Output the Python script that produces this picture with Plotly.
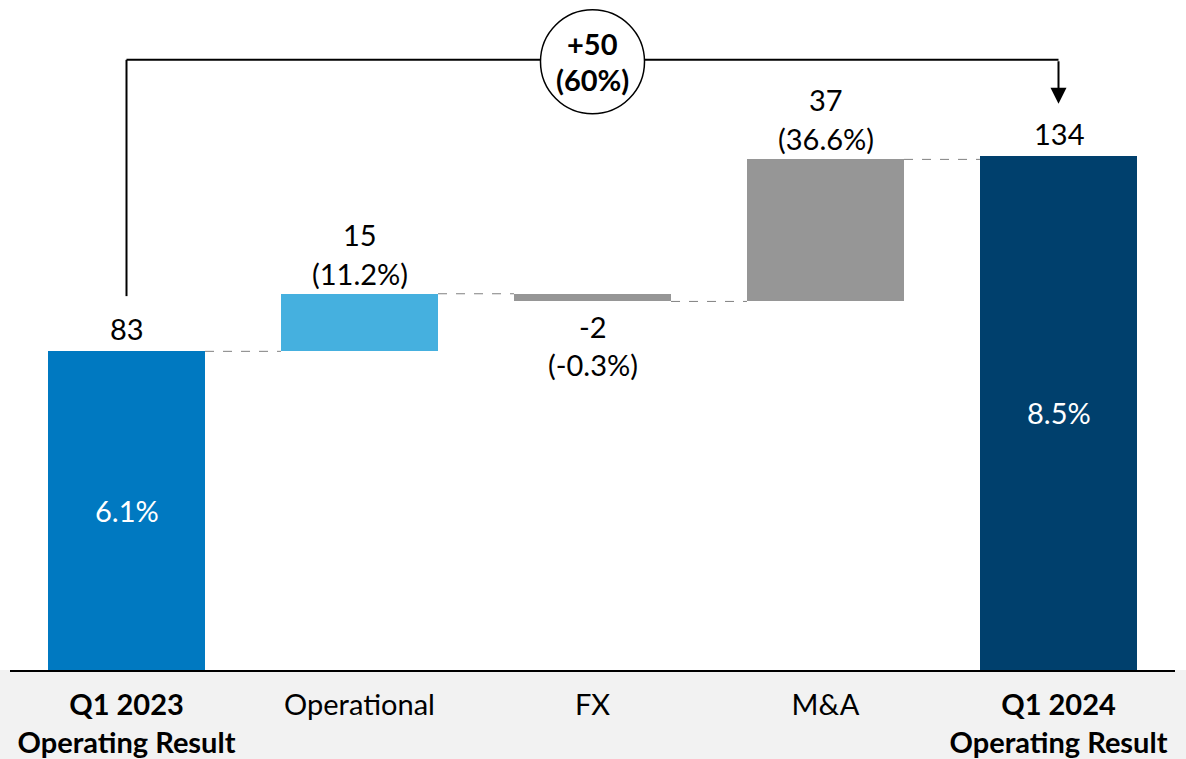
import plotly.graph_objects as go

categories = ["Q1 2023<br>Operating Result", "Operational", "FX", "M&A", "Q1 2024<br>Operating Result"]
bold_flags = [True, False, False, False, True]
values = [83, 15, -2, 37, 134]
measures = ["absolute", "relative", "relative", "relative", "absolute"]
value_labels = ["83", "15", "-2", "37", "134"]
pct_labels = [None, "(11.2%)", "(-0.3%)", "(36.6%)", None]
inside_labels = ["6.1%", None, None, None, "8.5%"]
colors = ["#0079C1", "#45B0DF", "#969696", "#969696", "#00406D"]
bridge_top = "+50"
bridge_pct = "(60%)"

FONT = "Lato"
FS = 29
W, H = 1186, 759
ML, MR, MT, MB = 10, 11, 0, 87
plot_h = H - MT - MB
px_per_unit = 516 / 134.0
y_max = plot_h / px_per_unit

# compute bases
bases, heights, ends = [], [], []
running = 0
for v, m in zip(values, measures):
    if m == "absolute":
        bases.append(0)
        heights.append(v)
        running = v
    else:
        bases.append(running)
        heights.append(v)
        running = running + v
    ends.append(running)

xs = list(range(len(categories)))
bw = 0.674

fig = go.Figure()
fig.add_trace(go.Bar(
    x=xs, y=heights, base=bases, width=bw,
    marker=dict(color=colors, line=dict(width=0)),
    hoverinfo="skip",
))

shapes = []
# gray band for labels
shapes.append(dict(type="rect", xref="paper", yref="paper", x0=-0.02, x1=1.02,
                   y0=-MB / plot_h - 0.01, y1=0, fillcolor="#F2F2F2", line=dict(width=0), layer="below"))
# connectors
for i in range(len(xs) - 1):
    lvl = ends[i]
    shapes.append(dict(type="line", xref="x", yref="y", x0=i + bw / 2, x1=i + 1 - bw / 2,
                       y0=lvl, y1=lvl, line=dict(color="#808080", width=1, dash="dash")))

# bracket
bracket_y = (plot_h - 60) / px_per_unit
left_start = (plot_h - 297) / px_per_unit
arrow_tip = (plot_h - 104) / px_per_unit
shapes.append(dict(type="line", xref="x", yref="y", x0=0, x1=0, y0=left_start, y1=bracket_y,
                   line=dict(color="black", width=2)))
shapes.append(dict(type="line", xref="x", yref="y", x0=0, x1=4, y0=bracket_y, y1=bracket_y,
                   line=dict(color="black", width=2)))
# circle
circ_y = (plot_h - 62) / px_per_unit
shapes.append(dict(type="circle", xref="x", yref="y", xsizemode="pixel", ysizemode="pixel",
                   xanchor=2, yanchor=circ_y, x0=-52, x1=52, y0=-52, y1=52,
                   fillcolor="white", line=dict(color="black", width=1.5)))

annotations = []
# arrow down on right
annotations.append(dict(x=4, y=arrow_tip, ax=4, ay=bracket_y, xref="x", yref="y", axref="x", ayref="y",
                        showarrow=True, arrowhead=2, arrowsize=1.6, arrowwidth=2, arrowcolor="black", text=""))
annotations.append(dict(x=2, y=circ_y, xref="x", yref="y", text="<b>" + bridge_top + "</b>", showarrow=False,
                        yshift=18, font=dict(family=FONT, size=FS, color="black")))
annotations.append(dict(x=2, y=circ_y, xref="x", yref="y", text="<b>" + bridge_pct + "</b>", showarrow=False,
                        yshift=-18, font=dict(family=FONT, size=FS, color="black")))

lbl_font = dict(family=FONT, size=FS, color="black")
for i in xs:
    top = max(bases[i], bases[i] + heights[i])
    bot = min(bases[i], bases[i] + heights[i])
    if heights[i] >= 0:
        if pct_labels[i]:
            annotations.append(dict(x=i, y=top, xref="x", yref="y", text=pct_labels[i], showarrow=False,
                                    yanchor="bottom", yshift=1, font=lbl_font))
            annotations.append(dict(x=i, y=top, xref="x", yref="y", text=value_labels[i], showarrow=False,
                                    yanchor="bottom", yshift=40, font=lbl_font))
        else:
            annotations.append(dict(x=i, y=top, xref="x", yref="y", text=value_labels[i], showarrow=False,
                                    yanchor="bottom", yshift=3, font=lbl_font))
    else:
        annotations.append(dict(x=i, y=bot, xref="x", yref="y", text=value_labels[i], showarrow=False,
                                yanchor="top", yshift=-6, font=lbl_font))
        annotations.append(dict(x=i, y=bot, xref="x", yref="y", text=pct_labels[i], showarrow=False,
                                yanchor="top", yshift=-44, font=lbl_font))
    if inside_labels[i]:
        annotations.append(dict(x=i, y=(bases[i] + heights[i]) / 2, xref="x", yref="y", text=inside_labels[i],
                                showarrow=False, font=dict(family=FONT, size=FS, color="white")))

ticktext = ["<b>" + c + "</b>" if b else c for c, b in zip(categories, bold_flags)]

fig.update_layout(
    width=W, height=H,
    margin=dict(l=ML, r=MR, t=MT, b=MB),
    paper_bgcolor="white", plot_bgcolor="white",
    showlegend=False,
    shapes=shapes, annotations=annotations,
    bargap=0,
    xaxis=dict(range=[-0.5, 4.5], tickvals=xs, ticktext=ticktext, showgrid=False, zeroline=False,
               showline=True, linecolor="black", linewidth=2, ticks="", fixedrange=True,
               ticklabelstandoff=8,
               tickfont=dict(family=FONT, size=FS, color="black")),
    yaxis=dict(range=[0, y_max], visible=False, fixedrange=True),
)

fig.write_html("out.html")
